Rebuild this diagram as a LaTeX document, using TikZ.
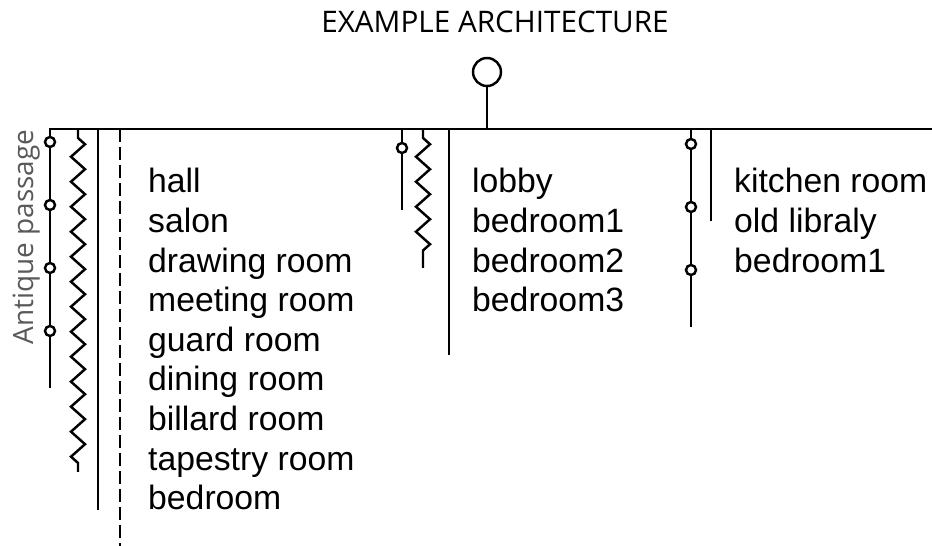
\documentclass[tikz,border=0pt]{standalone}
\usepackage{fontspec}
\setmainfont{Liberation Sans}
\newfontfamily\titlefont{Open Sans}
\usetikzlibrary{decorations.pathmorphing}

\newcommand*{\barY}{129}
\newcommand*{\rowskip}{39.6}
\newcommand*{\rowtop}{193}

\begin{document}
\begin{tikzpicture}
[
	x=0.02cm,
	y=-0.02cm,
	line width=1.4pt,
	rootpt/.style={circle,draw,inner sep=0pt,minimum size=0.56cm},
	smallpt/.style={circle,draw,fill=white,inner sep=0pt,minimum size=0.2cm},
	zig/.style={decorate,decoration={zigzag,segment length=0.5cm,amplitude=0.14cm,pre length=0.18cm,post length=0.14cm}},
	room/.style={anchor=base west,inner sep=0pt,font=\fontsize{19.2}{23}\selectfont},
	caption/.style={anchor=base,inner sep=0pt,font=\titlefont\fontsize{16.9}{20}\selectfont}
]
	\useasboundingbox (0,0) rectangle (932,546);

	% title and root
	\node[caption] (title) at (495,33) {EXAMPLE ARCHITECTURE};
	\node[rootpt] (root) at (487,72) {};
	\coordinate (root-foot) at (487,\barY);
	\draw (root) -- (root-foot);

	% bar
	\coordinate (bar-l) at (49,\barY);
	\coordinate (bar-r) at (932,\barY);
	\draw (bar-l) -- (bar-r);

	% left group
	\node[caption,rotate=90,text=black!65,font=\titlefont\fontsize{15.9}{19}\selectfont] (passage) at (33,237) {Antique passage};

	\coordinate (a-top) at (50,\barY);
	\coordinate (a-end) at (50,388);
	\draw (a-top) -- (a-end);
	\foreach \y [count=\i] in {142,205,268,331} {
		\node[smallpt] (a-pt\i) at (50,\y) {};
	}

	\coordinate (b-top) at (78,\barY);
	\coordinate (b-end) at (78,472);
	\draw[zig] (b-top) -- (b-end);

	\coordinate (c-top) at (98,\barY);
	\coordinate (c-end) at (98,510);
	\draw (c-top) -- (c-end);

	\coordinate (d-top) at (120,\barY);
	\coordinate (d-end) at (120,546);
	\draw[dash pattern=on 0.26cm off 0.1cm] (d-top) -- (d-end);

	\foreach \name [count=\i from 0] in {hall,salon,drawing room,meeting room,guard room,dining room,billard room,tapestry room,bedroom} {
		\node[room] (left-room\i) at (147,{\rowtop+\rowskip*\i}) {\name};
	}

	% middle group
	\coordinate (e-top) at (402,\barY);
	\coordinate (e-end) at (402,210);
	\draw (e-top) -- (e-end);
	\node[smallpt] (e-pt1) at (402,148) {};

	\coordinate (f-top) at (423,\barY);
	\coordinate (f-end) at (423,268);
	\draw[zig] (f-top) -- (f-end);

	\coordinate (g-top) at (449,\barY);
	\coordinate (g-end) at (449,355);
	\draw (g-top) -- (g-end);

	\foreach \name [count=\i from 0] in {lobby,bedroom1,bedroom2,bedroom3} {
		\node[room] (mid-room\i) at (471,{\rowtop+\rowskip*\i}) {\name};
	}

	% right group
	\coordinate (h-top) at (691,\barY);
	\coordinate (h-end) at (691,327);
	\draw (h-top) -- (h-end);
	\foreach \y [count=\i] in {144,207,270} {
		\node[smallpt] (h-pt\i) at (691,\y) {};
	}

	\coordinate (k-top) at (711,\barY);
	\coordinate (k-end) at (711,221);
	\draw (k-top) -- (k-end);

	\foreach \name [count=\i from 0] in {kitchen room,old libraly,bedroom1} {
		\node[room] (right-room\i) at (733,{\rowtop+\rowskip*\i}) {\name};
	}

\end{tikzpicture}
\end{document}
